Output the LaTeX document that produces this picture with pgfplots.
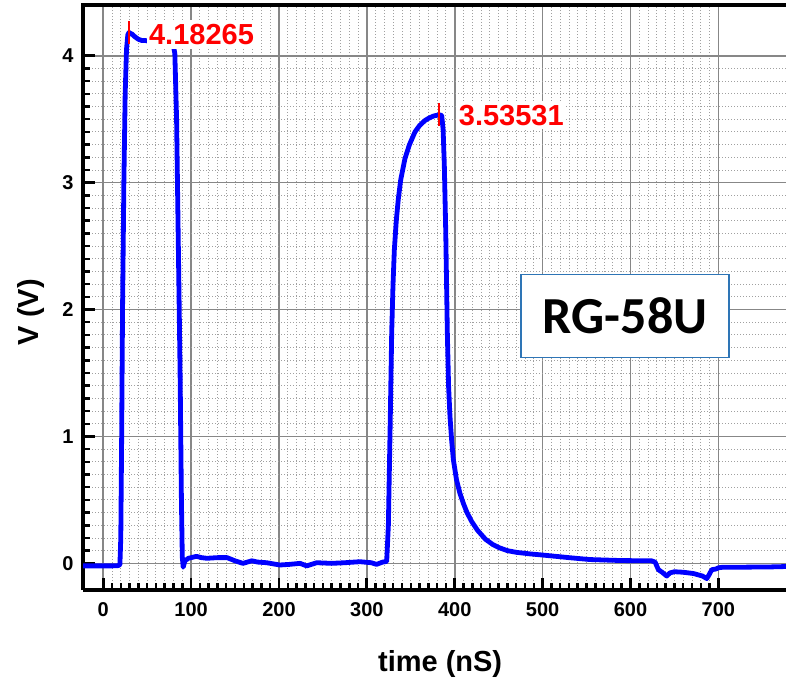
\documentclass[border=0pt]{standalone}
\usepackage{fontspec}
\setmainfont{Liberation Sans}
\newfontfamily\carlito{Carlito}
\usepackage{pgfplots}
\pgfplotsset{compat=1.18}
\definecolor{boxblue}{RGB}{46,117,182}
\definecolor{majgrid}{RGB}{135,135,135}
\definecolor{mingrid}{RGB}{160,160,160}
\begin{document}
\begin{tikzpicture}
\begin{axis}[name=ax, scale only axis, width=703bp, height=585bp,
 xmin=-23, xmax=777, ymin=-0.21, ymax=4.4,
 axis x line=bottom, axis y line=left,
 axis line style={-, line width=3.3bp, black},
 xtick={0,100,...,700}, ytick={0,1,2,3,4},
 minor x tick num=9, minor y tick num=9,
 tick align=inside,
 major tick length=12bp, minor tick length=7bp,
 major tick style={black, line width=2.8bp, solid},
 minor tick style={black, line width=2.5bp, solid},
 grid=both,
 major grid style={majgrid, line width=1.6bp},
 minor grid style={mingrid, line width=0.9bp, dash pattern=on 1.1bp off 1.9bp},
 tick label style={font=\fontsize{20bp}{23bp}\selectfont\bfseries},
 xticklabel style={yshift=-9bp},
 yticklabel style={xshift=-6bp},
 /pgf/number format/assume math mode=true,
 xlabel={time (nS)}, ylabel={V (V)},
 label style={font=\fontsize{29bp}{34bp}\selectfont\bfseries},
 xlabel style={at={(axis description cs:0.508,0)}, anchor=base, yshift=-81bp},
 ylabel style={at={(axis description cs:-0.074,0.475)}, anchor=center},
]
\addplot[blue, line width=4.8bp, line join=round] coordinates {
(-23,-0.02) (-10,-0.02) (0,-0.02) (10,-0.02) (17,-0.018) (19,-0.01) (20,0.2) (21,1.0) (22,2.0) (23.5,3.0) (25,3.7) (26.5,4.05) (28,4.165) (29.3,4.183) (33,4.17) (36,4.15) (40,4.13) (44,4.12) (48,4.12) (55,4.11) (65,4.1) (75,4.09) (80,4.07) (81.5,4.02) (83.5,3.5) (85.5,2.5) (87.5,1.5) (89,0.5) (90,0.05) (91,-0.03) (93,0.02) (97,0.04) (106,0.055) (112,0.045) (118,0.04) (130,0.045) (141,0.045) (150,0.02) (159,0.0) (164,0.01) (169,0.02) (176,0.01) (186,0.005) (201,-0.013) (212,-0.008) (224,0.0) (231.5,-0.02) (243,0.005) (260,0.0) (275,0.005) (292,0.013) (305,0.005) (311,-0.008) (318,0.01) (322.6,0.015) (324.5,0.3) (326.4,1.03) (328.3,1.82) (329.8,2.2) (331.3,2.47) (333.5,2.7) (335.8,2.87) (338.5,3.02) (343.4,3.19) (348.5,3.3) (354.8,3.40) (360,3.45) (366.2,3.49) (371,3.51) (376,3.525) (382.1,3.535) (385.2,3.53) (386.8,3.42) (388.2,3.13) (389.8,2.61) (391.6,1.82) (393,1.4) (394.6,1.16) (396.5,0.97) (398.4,0.82) (402,0.66) (406,0.55) (410,0.47) (414,0.4) (419.3,0.33) (426,0.26) (435,0.19) (443,0.15) (450,0.125) (460,0.1) (470,0.087) (485,0.075) (500.9,0.065) (530,0.045) (554,0.03) (590,0.022) (624,0.02) (628,0.01) (631.8,-0.05) (636,-0.07) (641.3,-0.10) (645,-0.075) (650,-0.066) (660,-0.07) (671.6,-0.08) (682,-0.1) (686.8,-0.12) (689.5,-0.09) (692.5,-0.05) (697,-0.045) (700,-0.035) (705.8,-0.03) (730,-0.03) (760,-0.028) (777,-0.025)
};
\addplot[red, line width=2bp, only marks, mark=|, mark size=11.5bp] coordinates {(29.3,4.18265) (382.1,3.53531)};
\node[anchor=west, fill=white, inner xsep=2bp, inner ysep=4bp, text=red, font=\fontsize{29bp}{34bp}\selectfont\bfseries] at (axis cs:49.7,4.167) {4.18265};
\node[anchor=west, fill=white, inner xsep=2bp, inner ysep=4bp, text=red, font=\fontsize{29bp}{34bp}\selectfont\bfseries] at (axis cs:402.3,3.532) {3.53531};
\node[draw=boxblue, line width=1.3bp, fill=white, minimum width=208bp, minimum height=83bp, inner sep=0pt, font=\carlito\bfseries\fontsize{52bp}{60bp}\selectfont] at (axis cs:593.9,1.949) {RG-58U};
\end{axis}
\draw[line width=3.3bp, black, line cap=rect] (ax.north west) -- (ax.north east);
\pgfresetboundingbox
\path[use as bounding box] ([xshift=-83bp,yshift=-87bp]ax.south west) rectangle ([yshift=5bp]ax.north east);
\end{tikzpicture}
\end{document}
